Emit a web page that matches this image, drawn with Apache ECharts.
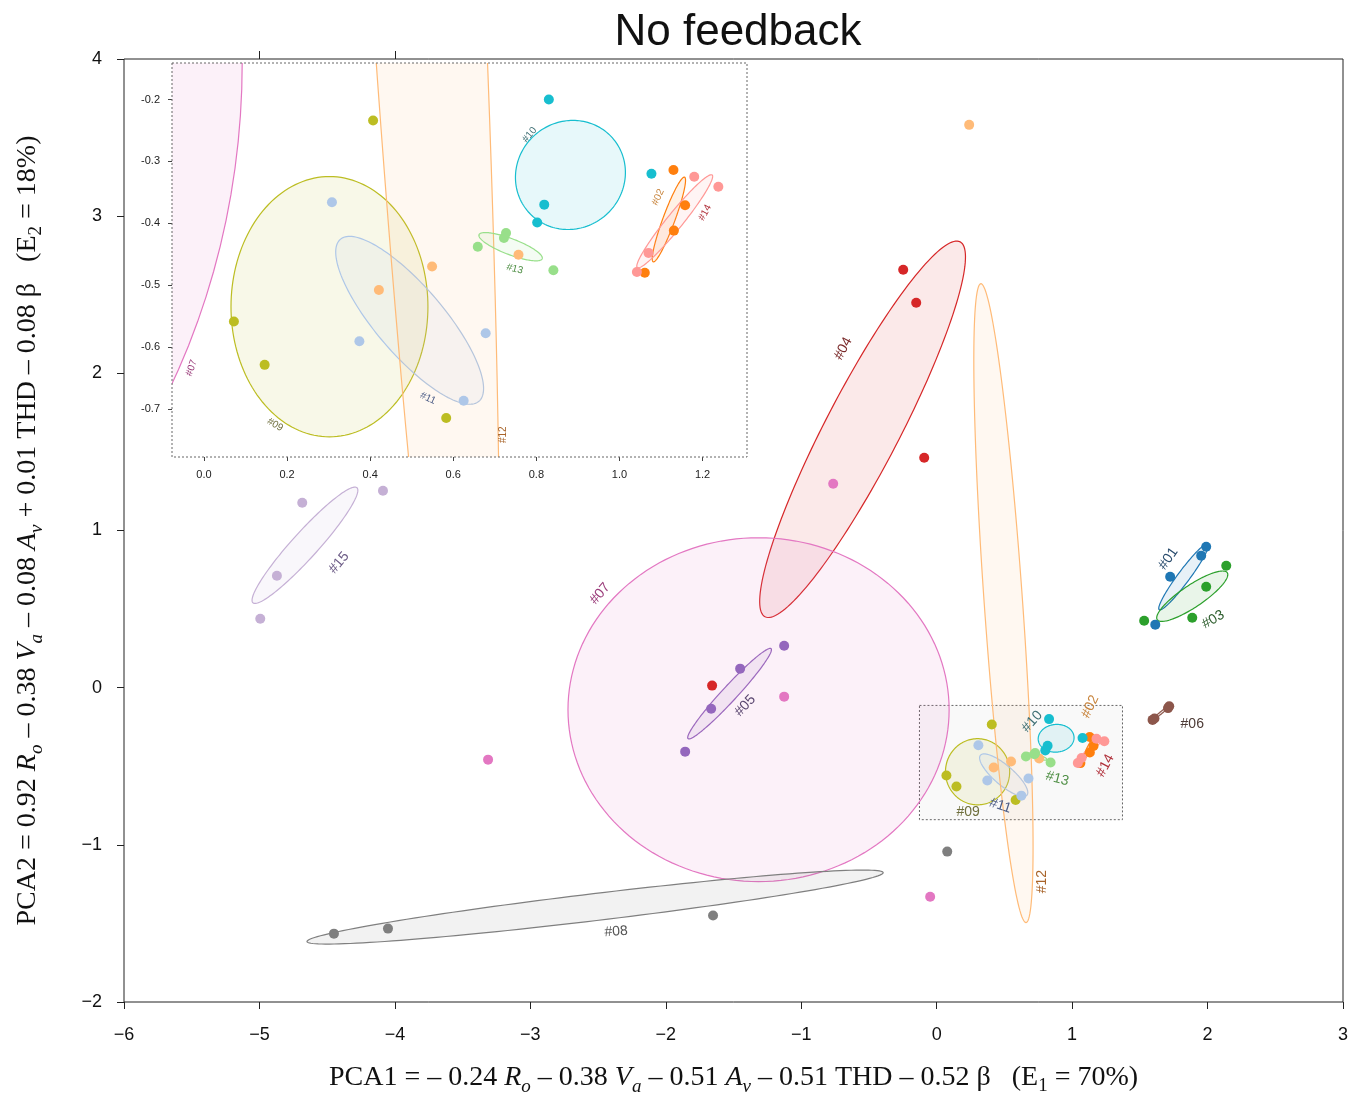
<!DOCTYPE html>
<html>
<head>
<meta charset="utf-8">
<script src="https://cdn.jsdelivr.net/npm/echarts@6/dist/echarts.min.js"></script>
<style>
html, body { margin: 0; padding: 0; background: #fff; }
#chart { width: 1364px; height: 1096px; }
</style>
</head>
<body>
<div id="chart"></div>
<script>
// ---- groups ----
const groupNames = ['#01', '#02', '#03', '#04', '#05', '#06', '#07', '#08',
                    '#09', '#10', '#11', '#12', '#13', '#14', '#15'];

// ---- measured points (group index, PCA1, PCA2) ----
const pointGroup = [
  0, 0, 0, 0,   1, 1, 1, 1,   2, 2, 2, 2,   3, 3, 3, 3,
  4, 4, 4, 4,   5, 5, 5, 5,   6, 6, 6, 6,   7, 7, 7, 7,
  8, 8, 8, 8,   9, 9, 9, 9,   10, 10, 10, 10,   11, 11, 11, 11,
  12, 12, 12, 12,   13, 13, 13, 13,   14, 14, 14, 14
];
const pointPca1 = [
  1.990, 1.953, 1.724, 1.614,      1.130, 1.158, 1.131, 1.061,
  2.138, 1.990, 1.887, 1.532,      -0.247, -0.151, -0.092, -1.658,
  -1.126, -1.451, -1.665, -1.857,  1.717, 1.708, 1.608, 1.594,
  -0.764, -1.126, -3.312, -0.048,  -4.450, -4.051, -1.651, 0.078,
  0.407, 0.072, 0.146, 0.583,      0.830, 1.077, 0.819, 0.802,
  0.308, 0.374, 0.678, 0.625,      0.240, 0.421, 0.549, 0.757,
  0.659, 0.722, 0.727, 0.841,      1.180, 1.238, 1.070, 1.042,
  -4.684, -4.088, -4.871, -4.994
];
const pointPca2 = [
  0.897, 0.840, 0.706, 0.401,      -0.314, -0.371, -0.412, -0.480,
  0.776, 0.642, 0.445, 0.426,      2.659, 2.449, 1.463, 0.013,
  0.267, 0.121, -0.134, -0.407,    -0.118, -0.130, -0.196, -0.205,
  1.298, -0.057, -0.458, -1.330,   -1.565, -1.533, -1.450, -1.043,
  -0.234, -0.559, -0.629, -0.715,  -0.200, -0.320, -0.370, -0.399,
  -0.366, -0.591, -0.578, -0.687,  3.581, -0.508, -0.470, -0.451,
  -0.438, -0.424, -0.416, -0.476,  -0.325, -0.341, -0.448, -0.479,
  1.177, 1.253, 0.712, 0.439
];

// ---- confidence ellipses: centre and two conjugate semi-axis vectors ----
const ellCx = [1.824, 1.119, 1.887, -0.547, -1.529, 1.655, -1.315, -2.522, 0.302, 0.882, 0.495, 0.493, 0.738, 1.133, -4.664];
const ellCy = [0.706, -0.394, 0.582, 1.644, -0.038, -0.161, -0.140, -1.396, -0.535, -0.322, -0.557, 0.538, -0.438, -0.397, 0.906];
const ellUx = [0.181, 0.0377, 0.2585, 0.720, 0.3065, 0.068, 1.407, 2.127, 0.237, 0.1322, 0.1668, -0.1669, 0.076, 0.0901, 0.384];
const ellUy = [0.210, 0.0684, 0.1495, 1.1927, 0.2863, 0.048, 0, 0.2195, 0, 0, -0.1309, 2.0324, -0.0194, 0.0749, 0.366];
const ellVx = [0.0355, 0.0135, 0.0453, 0.2424, 0.0407, 0.004, 0, 0.0119, 0, 0.006, 0.0620, 0.1414, -0.0068, 0.0149, 0.0713];
const ellVy = [-0.0229, -0.0034, -0.0581, -0.1085, -0.0324, -0.006, 1.094, -0.0853, 0.2104, 0.0882, 0.0358, 0.0086, -0.0121, -0.0081, -0.0555];

// ---- axis ticks ----
const mainTopTicks = [-5, -4];
const insetXTicks = [0, 0.2, 0.4, 0.6, 0.8, 1.0, 1.2];
const insetYTicks = [-0.7, -0.6, -0.5, -0.4, -0.3, -0.2];
const insetRange = { x: [-0.077, 1.307], y: [-0.778, -0.141] };
const zoomBox = [-0.127, -0.840, 1.372, -0.113];

// ---- group label placement: [group, PCA1, PCA2, rotation deg] ----
const mainLabels = [
  [0, 1.710, 0.821, 55], [1, 1.134, -0.121, 65], [2, 2.042, 0.433, 30],
  [3, -0.690, 2.157, 62], [4, -1.414, -0.115, 47], [5, 1.887, -0.229, 0],
  [6, -2.485, 0.598, 50], [7, -2.367, -1.552, 4], [8, 0.233, -0.789, 0],
  [9, 0.705, -0.216, 48], [10, 0.469, -0.751, -18], [11, 0.779, -1.234, 90],
  [12, 0.890, -0.579, -15], [13, 1.245, -0.496, 62], [14, -4.413, 0.795, 50]
];
const insetLabels = [
  [6, -0.030, -0.634, 70], [8, 0.171, -0.726, -30], [10, 0.539, -0.683, -25],
  [11, 0.721, -0.742, 90], [12, 0.748, -0.474, -15], [9, 0.784, -0.257, 50],
  [1, 1.093, -0.358, 65], [13, 1.206, -0.383, 62]
];

// ---- styles ----
const groupColors = ['#1f77b4', '#ff7f0e', '#2ca02c', '#d62728', '#9467bd', '#8c564b', '#e377c2', '#7f7f7f',
                     '#bcbd22', '#17becf', '#aec7e8', '#ffbb78', '#98df8a', '#ff9896', '#c5b0d5'];
const labelColors = ['#2b4d6e', '#c8843c', '#2e5e2e', '#7a2a2a', '#5a4670', '#4d3b36', '#9a3c7a', '#555555',
                     '#6e6e3c', '#3d6e73', '#4c5c86', '#a8642a', '#4f8f45', '#b0303a', '#6b5a85'];

function rgba(hex, a) {
  const n = parseInt(hex.slice(1), 16);
  return 'rgba(' + (n >> 16) + ',' + ((n >> 8) & 255) + ',' + (n & 255) + ',' + a + ')';
}

const scatterData = pointGroup.map((g, i) => [pointPca1[i], pointPca2[i], g]);
const ellipseData = groupNames.map((_, i) => [ellCx[i], ellCy[i], i]);

function renderEllipse(params, api) {
  const i = api.value(2);
  const pts = [];
  const N = 160;
  for (let k = 0; k <= N; k++) {
    const t = k / N * Math.PI * 2;
    const c = Math.cos(t), s = Math.sin(t);
    pts.push(api.coord([ellCx[i] + ellUx[i] * c + ellVx[i] * s,
                        ellCy[i] + ellUy[i] * c + ellVy[i] * s]));
  }
  return {
    type: 'polygon',
    shape: { points: pts },
    style: { fill: rgba(groupColors[i], 0.1), stroke: groupColors[i], lineWidth: 1.2 }
  };
}

function labelRenderer(size) {
  return function (params, api) {
    const g = api.value(2);
    const p = api.coord([api.value(0), api.value(1)]);
    return {
      type: 'text',
      x: p[0], y: p[1],
      rotation: api.value(3) * Math.PI / 180,
      style: {
        text: groupNames[g], fill: labelColors[g],
        font: size + 'px "Liberation Sans", Arial, sans-serif',
        align: 'center', verticalAlign: 'middle'
      }
    };
  };
}

const minus = v => String(v).replace('-', '\u2212');
const tickFont = { fontFamily: '"Liberation Sans", Arial, sans-serif', fontSize: 18, color: '#111' };

const serif = '"Liberation Serif", "Times New Roman", serif';
const nameRich = {
  i: { fontStyle: 'italic', fontFamily: serif, fontSize: 28, lineHeight: 36, color: '#111' },
  si: { fontStyle: 'italic', fontFamily: serif, fontSize: 19, lineHeight: 19, verticalAlign: 'bottom', color: '#111' },
  s: { fontFamily: serif, fontSize: 19, lineHeight: 19, verticalAlign: 'bottom', color: '#111' }
};
const nameStyle = { fontFamily: serif, fontSize: 28, lineHeight: 36, color: '#111', rich: nameRich };

const chart = echarts.init(document.getElementById('chart'), null, { renderer: 'canvas' });

chart.setOption({
  animation: false,
  backgroundColor: '#fff',
  title: {
    text: 'No feedback',
    left: 733, top: 6, textAlign: 'center',
    textStyle: { fontFamily: '"Liberation Sans", Arial, sans-serif', fontSize: 44, fontWeight: 'normal', color: '#111' }
  },
  grid: [
    { left: 124, top: 59, width: 1219, height: 943, show: true, borderColor: '#222', borderWidth: 1,
      backgroundColor: 'transparent', outerBoundsMode: 'none', containLabel: false },
    { left: 172, top: 63, width: 575, height: 394, show: false, outerBoundsMode: 'none', containLabel: false }
  ],
  xAxis: [
    {
      gridIndex: 0, type: 'value', min: -6, max: 3, interval: 1,
      axisLine: { show: false, onZero: false },
      axisTick: { show: true, inside: false, length: 7, lineStyle: { color: '#222' } },
      axisLabel: Object.assign({ margin: 24, formatter: minus }, tickFont),
      splitLine: { show: false },
      name: 'PCA1 = \u2013 0.24 {i|R}{si|o} \u2013 0.38 {i|V}{si|a} \u2013 0.51 {i|A}{si|v} \u2013 0.51 THD \u2013 0.52 \u03b2   (E{s|1} = 70%)',
      nameLocation: 'middle', nameGap: 58, nameTextStyle: nameStyle
    },
    {
      gridIndex: 0, type: 'value', position: 'top', min: -6, max: 3,
      axisLine: { show: false, onZero: false },
      axisTick: { show: true, inside: false, length: 8, customValues: mainTopTicks, lineStyle: { color: '#222' } },
      axisLabel: { show: false },
      splitLine: { show: false }
    },
    {
      gridIndex: 1, type: 'value', min: insetRange.x[0], max: insetRange.x[1],
      axisLine: { show: false, onZero: false },
      axisTick: { show: true, inside: false, length: 4, customValues: insetXTicks, lineStyle: { color: '#444' } },
      axisLabel: { customValues: insetXTicks, formatter: v => v.toFixed(1), margin: 12,
                   fontFamily: '"Liberation Sans", Arial, sans-serif', fontSize: 11, color: '#222' },
      splitLine: { show: false }
    }
  ],
  yAxis: [
    {
      gridIndex: 0, type: 'value', min: -2, max: 4, interval: 1,
      axisLine: { show: false, onZero: false },
      axisTick: { show: true, inside: false, length: 7, lineStyle: { color: '#222' } },
      axisLabel: Object.assign({ margin: 22, formatter: minus }, tickFont),
      splitLine: { show: false },
      name: 'PCA2 = 0.92 {i|R}{si|o} \u2013 0.38 {i|V}{si|a} \u2013 0.08 {i|A}{si|v} + 0.01 THD \u2013 0.08 \u03b2   (E{s|2} = 18%)',
      nameLocation: 'middle', nameGap: 78, nameRotate: 90, nameTextStyle: nameStyle
    },
    {
      gridIndex: 1, type: 'value', min: insetRange.y[0], max: insetRange.y[1],
      axisLine: { show: false, onZero: false },
      axisTick: { show: true, inside: false, length: 4, customValues: insetYTicks, lineStyle: { color: '#444' } },
      axisLabel: { customValues: insetYTicks, formatter: v => v.toFixed(1), margin: 12,
                   fontFamily: '"Liberation Sans", Arial, sans-serif', fontSize: 11, color: '#222' },
      splitLine: { show: false }
    }
  ],
  series: [
    // main panel: zoom region box
    {
      type: 'custom', xAxisIndex: 0, yAxisIndex: 0, z: 1, silent: true,
      data: [zoomBox],
      renderItem: function (params, api) {
        const a = api.coord([api.value(0), api.value(1)]);
        const b = api.coord([api.value(2), api.value(3)]);
        return {
          type: 'rect',
          shape: { x: Math.min(a[0], b[0]), y: Math.min(a[1], b[1]), width: Math.abs(b[0] - a[0]), height: Math.abs(b[1] - a[1]) },
          style: { fill: 'rgba(0,0,0,0.025)', stroke: '#666', lineWidth: 1, lineDash: [2, 2] }
        };
      }
    },
    // main panel
    { type: 'custom', xAxisIndex: 0, yAxisIndex: 0, z: 2, clip: true, silent: true, data: ellipseData, renderItem: renderEllipse },
    {
      type: 'scatter', xAxisIndex: 0, yAxisIndex: 0, z: 3, symbolSize: 10, silent: true,
      data: scatterData,
      itemStyle: { opacity: 1, color: p => groupColors[p.data[2]] }
    },
    { type: 'custom', xAxisIndex: 0, yAxisIndex: 0, z: 4, silent: true,
      data: mainLabels.map(r => [r[1], r[2], r[0], r[3]]), renderItem: labelRenderer(14) },

    // inset panel
    {
      type: 'custom', xAxisIndex: 2, yAxisIndex: 1, z: 10, silent: true, data: [[0.5, -0.5]],
      renderItem: function (params) {
        const c = params.coordSys;
        return { type: 'rect', shape: { x: c.x, y: c.y, width: c.width, height: c.height }, style: { fill: '#fff' } };
      }
    },
    { type: 'custom', xAxisIndex: 2, yAxisIndex: 1, z: 11, clip: true, silent: true, data: ellipseData, renderItem: renderEllipse },
    {
      type: 'scatter', xAxisIndex: 2, yAxisIndex: 1, z: 12, symbolSize: 10, clip: true, silent: true,
      data: scatterData,
      itemStyle: { opacity: 1, color: p => groupColors[p.data[2]] }
    },
    { type: 'custom', xAxisIndex: 2, yAxisIndex: 1, z: 13, silent: true,
      data: insetLabels.map(r => [r[1], r[2], r[0], r[3]]), renderItem: labelRenderer(10) },
    {
      type: 'custom', xAxisIndex: 2, yAxisIndex: 1, z: 14, silent: true, data: [[0.5, -0.5]],
      renderItem: function (params) {
        const c = params.coordSys;
        return { type: 'rect', shape: { x: c.x, y: c.y, width: c.width, height: c.height },
                 style: { fill: 'none', stroke: '#666', lineWidth: 1, lineDash: [2, 2] } };
      }
    }
  ]
});
</script>
</body>
</html>
